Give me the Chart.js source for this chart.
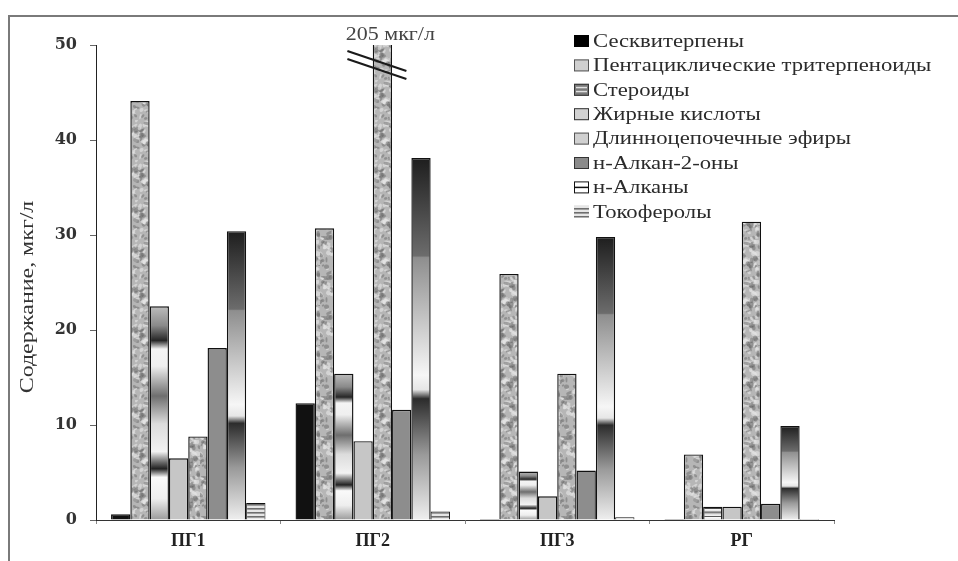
<!DOCTYPE html>
<html>
<head>
<meta charset="utf-8">
<script src="https://cdn.jsdelivr.net/npm/chart.js@4"></script>
<style>
  body { margin: 0; background: #fff; }
  #wrap { width: 958px; height: 561px; }
</style>
</head>
<body>
<div id="wrap"><canvas id="chart" width="958" height="561"></canvas></div>
<script>
const categories = ["ПГ1", "ПГ2", "ПГ3", "РГ"];
const seriesNames = [
  "Сесквитерпены",
  "Пентациклические тритерпеноиды",
  "Стероиды",
  "Жирные кислоты",
  "Длинноцепочечные эфиры",
  "н-Алкан-2-оны",
  "н-Алканы",
  "Токоферолы"
];
const sesquiterpenes = [0.6, 12.3, 0.1, 0.1];
const pentacyclic = [44.1, 30.7, 25.9, 6.9];
const steroids = [22.5, 15.4, 5.1, 1.4];
const fattyAcids = [6.5, 8.3, 2.5, 1.4];
const longChainEsters = [8.8, 205, 15.4, 31.4];
const alkan2ones = [18.1, 11.6, 5.2, 1.7];
const nAlkanes = [30.4, 38.1, 29.8, 9.9];
const tocopherols = [1.8, 0.9, 0.3, 0.1];
const yTicks = [0, 10, 20, 30, 40, 50];
const yTitle = "Содержание, мкг/л";
const unit = "мкг/л";

// deterministic texture helper
function hash(i) {
  const v = Math.sin(i * 12.9898 + 78.233) * 43758.5453;
  return v - Math.floor(v);
}

function granite() {
  const c = document.createElement("canvas");
  c.width = 40; c.height = 40;
  const g = c.getContext("2d");
  g.fillStyle = "#b6b6b6";
  g.fillRect(0, 0, 40, 40);
  for (let i = 0; i < 110; i++) {
    g.fillStyle = hash(i * 5) < 0.5 ? "rgba(105,105,105,0.5)" : "rgba(230,230,230,0.6)";
    g.beginPath();
    g.ellipse(hash(i * 5 + 1) * 40, hash(i * 5 + 2) * 40, 1 + hash(i * 5 + 3) * 2.5,
      0.8 + hash(i * 5 + 4) * 1.8, hash(i * 7) * 3, 0, Math.PI * 2);
    g.fill();
  }
  return g.createPattern(c, "repeat");
}

function stripes() {
  const c = document.createElement("canvas");
  c.width = 4; c.height = 4;
  const g = c.getContext("2d");
  g.fillStyle = "#e6e6e6";
  g.fillRect(0, 0, 4, 4);
  g.fillStyle = "#6e6e6e";
  g.fillRect(0, 0, 4, 1.6);
  return g.createPattern(c, "repeat");
}

function bandFill(stops) {
  return (ctx) => {
    const chart = ctx.chart;
    const area = chart.chartArea;
    if (!area || ctx.type !== "data") return "#999";
    const y = chart.scales.y;
    const top = Math.max(y.getPixelForValue(ctx.raw), area.top);
    const bottom = y.getPixelForValue(0);
    if (bottom - top < 1) return stops[stops.length - 1][1];
    const grad = chart.ctx.createLinearGradient(0, top, 0, bottom);
    stops.forEach(([o, c]) => grad.addColorStop(o, c));
    return grad;
  };
}

const granitePattern = granite();
const stripePattern = stripes();

const steroidStops = [
  [0, "#bdbdbd"], [0.09, "#8a8a8a"], [0.16, "#262626"], [0.2, "#f4f4f4"],
  [0.28, "#efefef"], [0.42, "#6e6e6e"], [0.55, "#dcdcdc"], [0.68, "#f2f2f2"],
  [0.73, "#6a6a6a"], [0.76, "#222222"], [0.8, "#fafafa"], [0.9, "#eeeeee"], [1, "#9a9a9a"]
];
const alkaneStops = [
  [0, "#1e1e1e"], [0.27, "#6c6c6c"], [0.275, "#8e8e8e"], [0.6, "#f6f6f6"],
  [0.64, "#e6e6e6"], [0.665, "#2c2c2c"], [0.82, "#9a9a9a"], [1, "#efefef"]
];

const fills = [
  "#111111",
  granitePattern,
  bandFill(steroidStops),
  "#c6c6c6",
  granitePattern,
  "#8d8d8d",
  bandFill(alkaneStops),
  stripePattern
];

const values = [sesquiterpenes, pentacyclic, steroids, fattyAcids, longChainEsters, alkan2ones, nAlkanes, tocopherols];

function drawLegendIcon(g, i, x, y, w, h) {
  g.save();
  g.lineWidth = 1;
  if (i === 0) {
    g.fillStyle = "#000"; g.fillRect(x, y, w, h);
  } else if (i === 6) {
    g.fillStyle = "#fff"; g.fillRect(x, y, w, h);
    g.strokeStyle = "#111"; g.strokeRect(x + 0.5, y + 0.5, w - 1, h - 1);
    g.beginPath(); g.moveTo(x, y + h / 2); g.lineTo(x + w, y + h / 2); g.lineWidth = 1.5; g.stroke();
  } else if (i === 7) {
    g.fillStyle = stripePattern; g.fillRect(x, y, w, h);
  } else {
    const inner = { 1: "#cfcfcf", 2: "#7a7a7a", 3: "#d2d2d2", 4: "#d0d0d0", 5: "#8a8a8a" }[i];
    g.fillStyle = inner; g.fillRect(x, y, w, h);
    if (i === 2) {
      g.fillStyle = "#e0e0e0";
      g.fillRect(x + 2, y + 3, w - 4, 1.5);
      g.fillRect(x + 2, y + h - 5, w - 4, 1.5);
    }
    g.strokeStyle = i === 1 || i === 4 ? "#555" : "#333";
    g.strokeRect(x + 0.5, y + 0.5, w - 1, h - 1);
  }
  g.restore();
}

const decor = {
  id: "decor",
  beforeDraw(chart) {
    const g = chart.ctx;
    g.save();
    g.fillStyle = "#fff";
    g.fillRect(0, 0, chart.width, chart.height);
    g.strokeStyle = "#7a7a7a";
    g.lineWidth = 2;
    g.beginPath();
    g.moveTo(chart.width, 16); g.lineTo(9, 16); g.lineTo(9, chart.height);
    g.stroke();
    g.restore();
  },
  afterDatasetsDraw(chart) {
    const g = chart.ctx;
    const area = chart.chartArea;
    const yMax = chart.scales.y.max;
    chart.data.datasets.forEach((ds, di) => {
      ds.data.forEach((v, idx) => {
        if (v <= yMax) return;
        const el = chart.getDatasetMeta(di).data[idx];
        const cx = el.x;
        g.save();
        g.strokeStyle = "#1a1a1a";
        g.lineWidth = 2.2;
        [6, 14].forEach((dy) => {
          g.beginPath();
          g.moveTo(cx - 35, area.top + dy);
          g.lineTo(cx + 24, area.top + dy + 20);
          g.stroke();
        });
        g.font = "18px 'Liberation Serif'";
        g.fillStyle = "#444";
        g.textAlign = "center";
        g.textBaseline = "middle";
        g.translate(cx + 8, area.top - 10);
        g.scale(1.22, 1);
        g.fillText(v + " " + unit, 0, 0);
        g.restore();
      });
    });
  },
  afterDraw(chart) {
    const g = chart.ctx;
    g.save();
    chart.data.datasets.forEach((ds, i) => {
      const cy = 41 + i * 24.4;
      drawLegendIcon(g, i, 574, cy - 6, 15, 12);
      g.save();
      g.translate(593, cy);
      g.scale(1.26, 1);
      g.font = "18px 'Liberation Serif'";
      g.fillStyle = "#2b2b2b";
      g.textBaseline = "middle";
      g.fillText(ds.label, 0, 1);
      g.restore();
    });
    g.translate(28, 297);
    g.rotate(-Math.PI / 2);
    g.scale(1.33, 1);
    g.font = "18px 'Liberation Serif'";
    g.fillStyle = "#333";
    g.textAlign = "center";
    g.textBaseline = "middle";
    g.fillText(yTitle, 0, 0);
    g.restore();
  }
};

new Chart(document.getElementById("chart"), {
  type: "bar",
  data: {
    labels: categories,
    datasets: values.map((vals, i) => ({
      label: seriesNames[i],
      data: vals,
      backgroundColor: fills[i],
      borderColor: "#111",
      borderWidth: i === 7 ? 1 : 1.4,
      categoryPercentage: 0.837,
      barPercentage: 1
    }))
  },
  options: {
    responsive: false,
    animation: false,
    layout: { padding: { top: 45, right: 124, bottom: 0, left: 0 } },
    plugins: {
      legend: { display: false },
      tooltip: { enabled: false }
    },
    scales: {
      x: {
        afterFit(scale) { scale.height = 41; },
        grid: { drawOnChartArea: false, tickLength: 4, tickColor: "#888", offset: true },
        border: { color: "#333", width: 1 },
        ticks: {
          padding: 7,
          color: "#222",
          font: { family: "'Liberation Serif'", size: 18, weight: "bold" }
        }
      },
      y: {
        min: 0,
        max: 50,
        afterFit(scale) { scale.width = 96; },
        afterBuildTicks(scale) { scale.ticks = yTicks.map((v) => ({ value: v })); },
        grid: { drawOnChartArea: false, tickLength: 6, tickColor: "#666" },
        border: { color: "#222", width: 1 },
        ticks: {
          padding: 13,
          color: "#333",
          font: { family: "'DejaVu Serif'", size: 16, weight: "bold" }
        }
      }
    }
  },
  plugins: [decor]
});
</script>
</body>
</html>
